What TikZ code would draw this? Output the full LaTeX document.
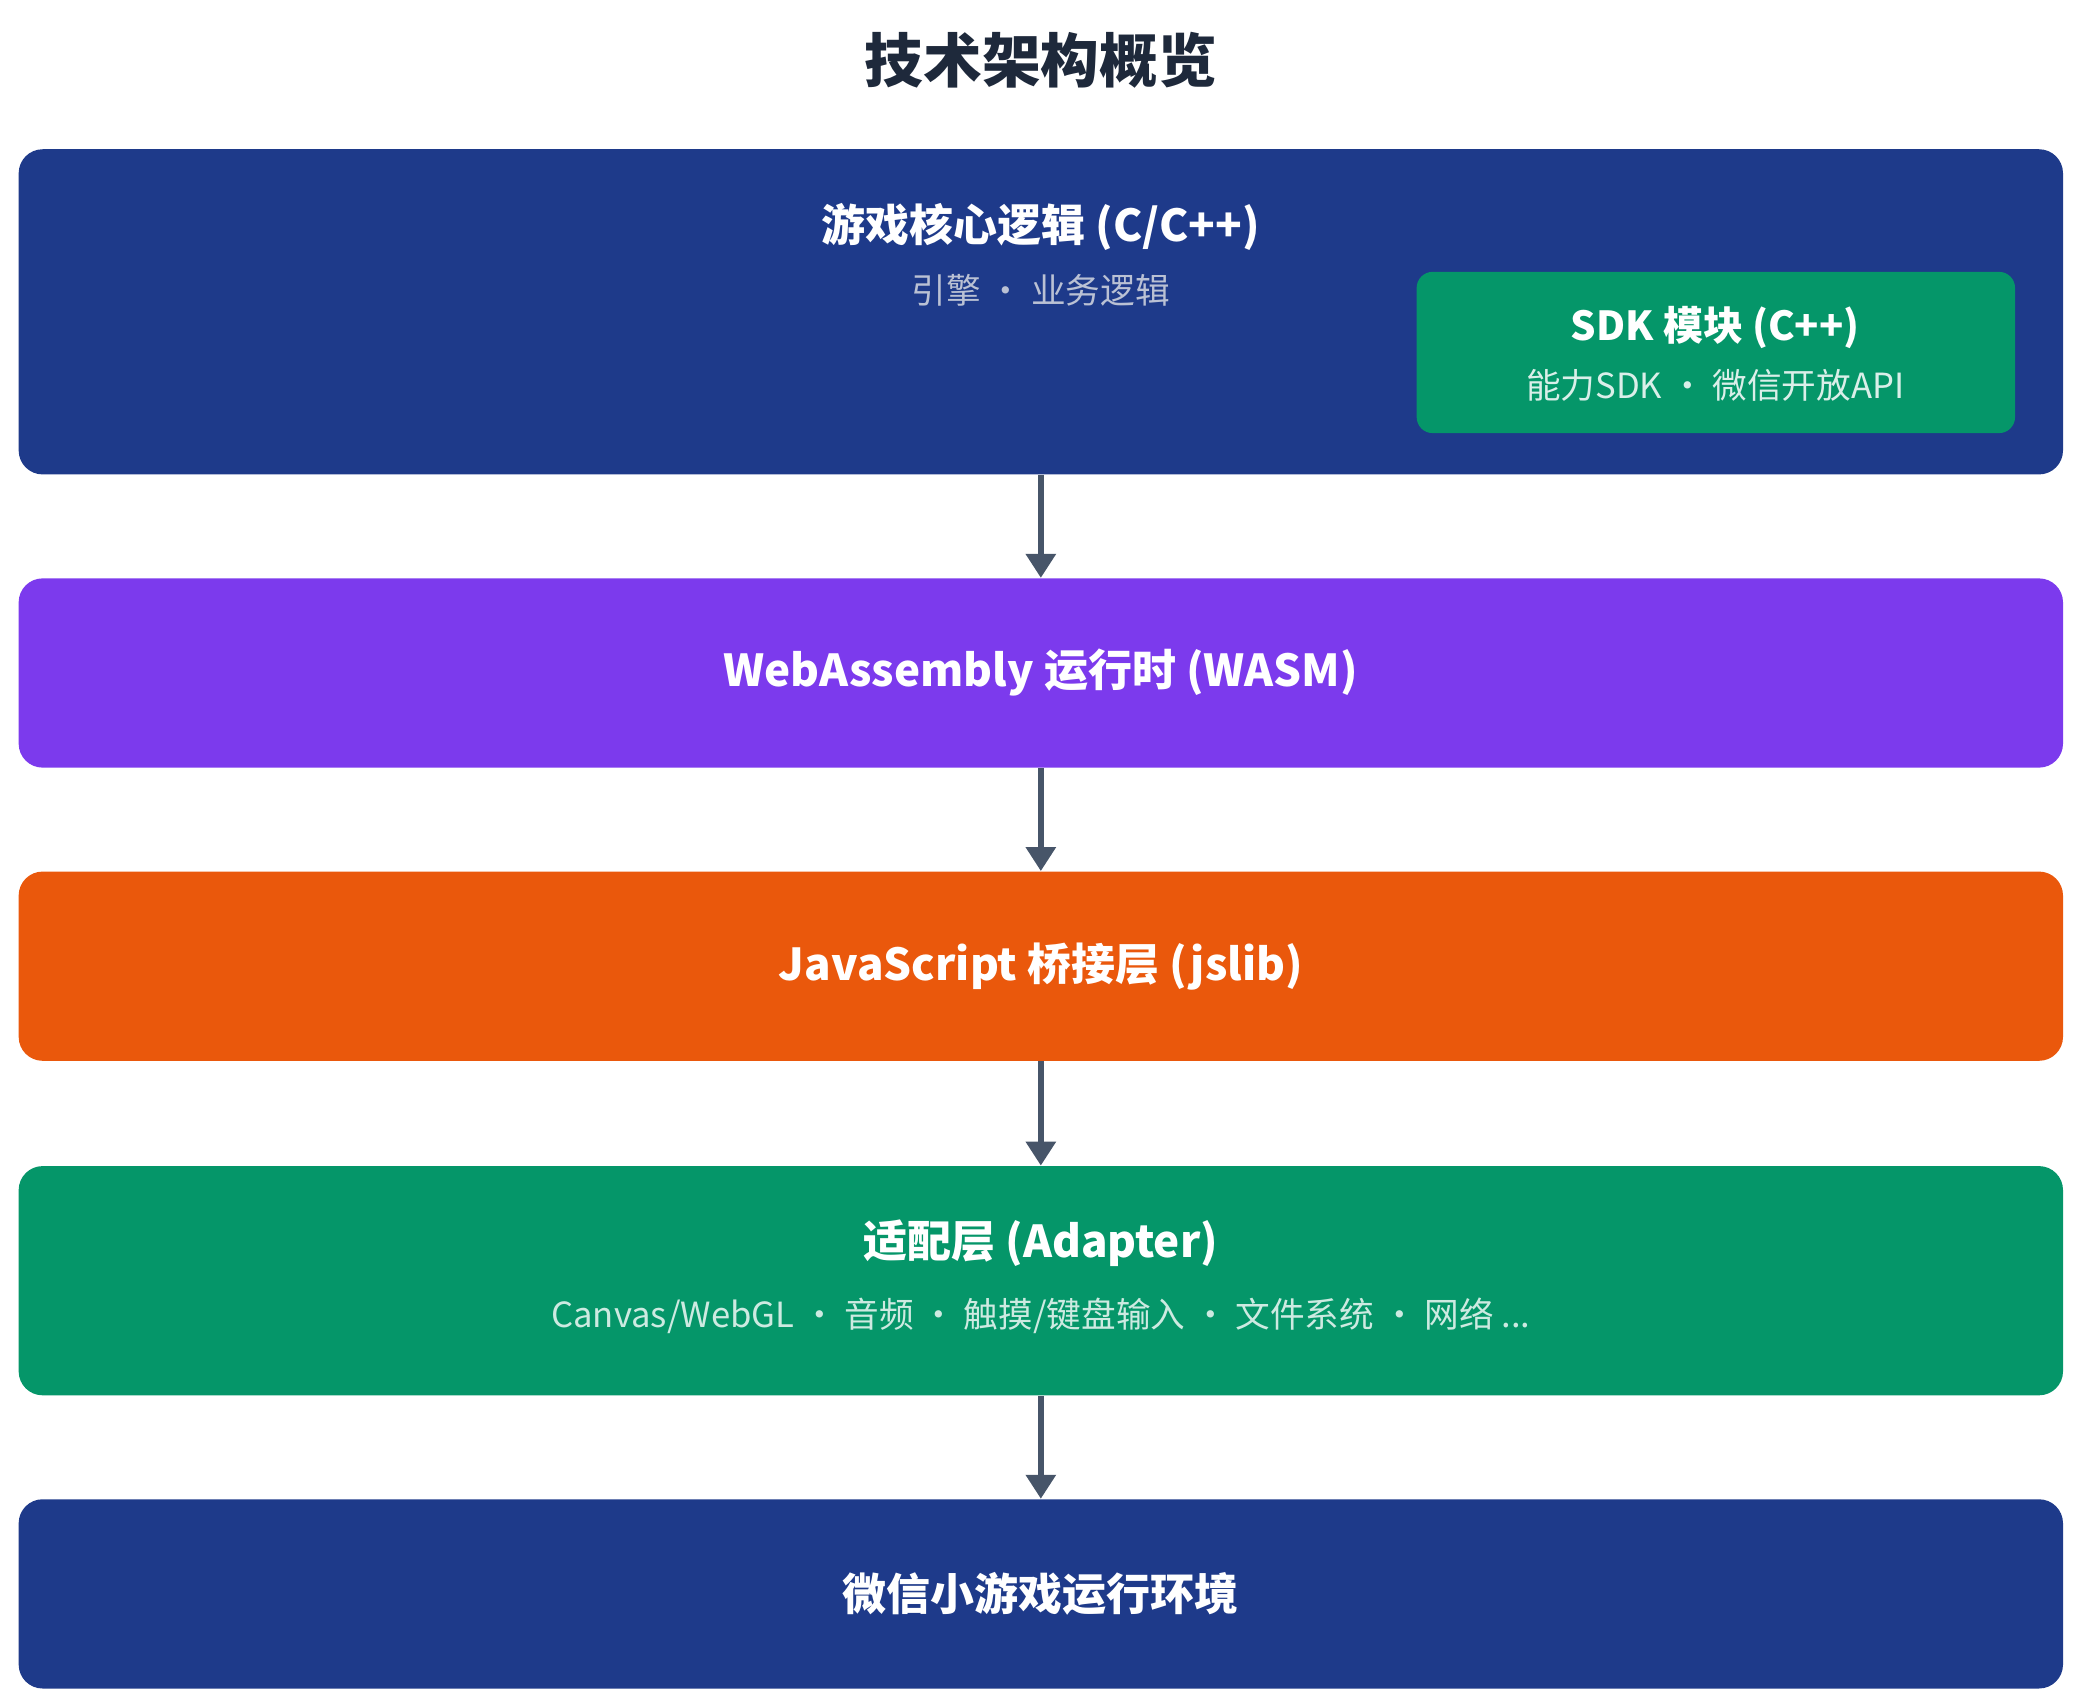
\documentclass[tikz,border=0pt]{standalone}
\usepackage{fontspec}
\setmainfont{Noto Sans CJK SC}
\usetikzlibrary{arrows.meta}
\definecolor{navy}{HTML}{1E3A8A}
\definecolor{violet}{HTML}{7C3AED}
\definecolor{rust}{HTML}{EA580C}
\definecolor{jade}{HTML}{059669}
\definecolor{slate}{HTML}{475569}
\definecolor{titlec}{HTML}{1E293B}
\tikzset{layer/.style={rounded corners=9pt, inner sep=0pt, minimum width=767pt},
  subtxt/.style={font=\fontsize{13}{15}\selectfont},
  head/.style={font=\bfseries\fontsize{16.5}{19}\selectfont, text=white},
  flow/.style={draw=slate, line width=2pt, -{Triangle[length=9pt,width=11pt]}}}
\begin{document}
\begin{tikzpicture}[x=0.5pt,y=-0.5pt]
  \useasboundingbox (0,0) rectangle (1560,1277);
  \node[font=\bfseries\fontsize{22}{26}\selectfont, text=titlec] (title) at (781,45) {技术架构概览};
  % layers
  \node[layer, fill=navy, minimum height=122pt]  (core)    at (781,234) {};
  \node[layer, fill=violet, minimum height=71pt] (wasm)    at (781,505) {};
  \node[layer, fill=rust, minimum height=71pt]   (bridge)  at (781,725) {};
  \node[layer, fill=jade, minimum height=86pt]   (adapter) at (781,961) {};
  \node[layer, fill=navy, minimum height=71pt]   (env)     at (781,1196) {};
  \node[rounded corners=6pt, fill=jade, minimum width=224.5pt, minimum height=60.5pt] (sdk) at (1287.5,264.5) {};
  % texts
  \node[head] (coret) at (781,170) {游戏核心逻辑 (C/C++)};
  \node[subtxt, text=black!20!navy!30!white] (cores) at (781,218) {引擎 · 业务逻辑};
  \node[head, font=\bfseries\fontsize{15}{18}\selectfont] (sdkt) at (1287,246) {SDK 模块 (C++)};
  \node[subtxt, text=jade!15!white] (sdks) at (1287,289) {能力SDK · 微信开放API};
  \node[head] (wasmt) at (781,505) {WebAssembly 运行时 (WASM)};
  \node[head] (bridget) at (781,725) {JavaScript 桥接层 (jslib)};
  \node[head] (adaptert) at (781,933) {适配层 (Adapter)};
  \node[subtxt, text=jade!20!white] (adapters) at (781,987) {Canvas/WebGL · 音频 · 触摸/键盘输入 · 文件系统 · 网络 ...};
  \node[head] (envt) at (781,1196) {微信小游戏运行环境};
  % arrows
  \draw[flow] (core) -- (wasm);
  \draw[flow] (wasm) -- (bridge);
  \draw[flow] (bridge) -- (adapter);
  \draw[flow] (adapter) -- (env);
\end{tikzpicture}
\end{document}
